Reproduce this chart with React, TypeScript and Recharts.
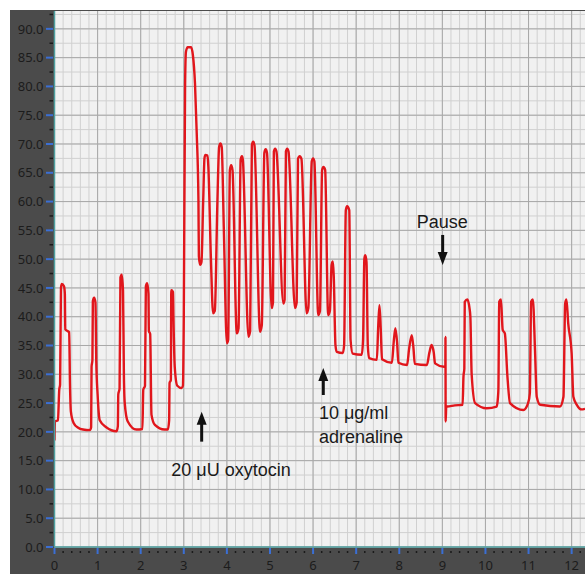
import React from 'react';
import { LineChart, Line, XAxis, YAxis, CartesianGrid, ReferenceDot, ReferenceLine } from 'recharts';

// trace, [time, value]
const baseline: number[][] = [
  [0.0, 18.5], [0.01, 21.8], [0.08, 22.0], [0.11, 27.3], [0.13, 28.2], [0.15, 45.0], [0.17, 45.7],
  [0.22, 45.3], [0.24, 44.0], [0.25, 37.8], [0.34, 37.3], [0.36, 28.0], [0.38, 23.5], [0.44, 21.6],
  [0.55, 20.7], [0.66, 20.4], [0.82, 20.3], [0.85, 20.8], [0.86, 31.3], [0.88, 32.5], [0.89, 42.7],
  [0.92, 43.3], [0.95, 42.5], [0.97, 32.0], [1.0, 26.5], [1.05, 22.0], [1.2, 20.8], [1.44, 20.1],
  [1.47, 21.0], [1.48, 26.5], [1.51, 27.5], [1.53, 46.8], [1.56, 47.3], [1.59, 44.5], [1.61, 30.0],
  [1.63, 25.0], [1.7, 21.8], [1.9, 20.4], [2.04, 20.5], [2.06, 27.3], [2.1, 28.0], [2.12, 45.3],
  [2.15, 45.8], [2.18, 44.0], [2.19, 37.5], [2.22, 37.0], [2.25, 23.0], [2.33, 21.2], [2.55, 20.4],
  [2.63, 20.4], [2.66, 22.0], [2.67, 28.5], [2.7, 29.0], [2.71, 44.6], [2.75, 44.3], [2.76, 40.0],
  [2.79, 31.3], [2.85, 28.0], [2.95, 27.6], [2.98, 28.0],
];

const oxytocin: number[][] = [
  [3.0, 40.0], [3.03, 80.0], [3.05, 86.0], [3.09, 86.8], [3.17, 86.8], [3.21, 85.5], [3.26, 80.5],
  [3.3, 71.9], [3.34, 60.3], [3.35, 50.5], [3.38, 49.0], [3.41, 49.5], [3.45, 60.0], [3.48, 67.5],
  [3.5, 68.1], [3.55, 68.0], [3.57, 66.0], [3.63, 50.0], [3.68, 40.6], [3.72, 41.0], [3.78, 60.0],
  [3.82, 69.5], [3.85, 70.1], [3.88, 69.5], [3.93, 55.0], [4.0, 35.4], [4.03, 36.0], [4.07, 65.5],
  [4.1, 66.3], [4.13, 65.5], [4.23, 37.1], [4.27, 38.0], [4.32, 67.3], [4.35, 67.9], [4.37, 67.3],
  [4.5, 36.5], [4.54, 37.5], [4.58, 69.8], [4.61, 70.4], [4.64, 69.8], [4.77, 37.4], [4.81, 38.5],
  [4.87, 68.5], [4.9, 69.1], [4.93, 68.5], [5.04, 41.5], [5.07, 42.5], [5.09, 68.7], [5.12, 69.2],
  [5.15, 68.7], [5.31, 42.3], [5.34, 43.0], [5.37, 68.7], [5.4, 69.2], [5.43, 68.7], [5.58, 41.5],
  [5.62, 42.5], [5.65, 67.4], [5.69, 67.9], [5.73, 67.4], [5.85, 40.6], [5.89, 41.5], [5.97, 67.0],
  [6.0, 67.5], [6.03, 67.0], [6.12, 40.3], [6.16, 41.0], [6.21, 65.5], [6.24, 66.0], [6.28, 65.5],
  [6.35, 40.3],
];

const adrenaline: number[][] = [
  [6.39, 41.0], [6.43, 49.0], [6.46, 49.6], [6.48, 47.0], [6.52, 35.0], [6.55, 33.9], [6.69, 33.7],
  [6.72, 35.0], [6.76, 58.5], [6.79, 59.2], [6.84, 58.5], [6.87, 36.0], [6.92, 33.6], [7.13, 33.4],
  [7.16, 36.0], [7.19, 50.0], [7.21, 50.7], [7.24, 49.5], [7.27, 35.0], [7.3, 32.8], [7.48, 32.5],
  [7.51, 38.0], [7.54, 42.0], [7.57, 38.0], [7.6, 32.6], [7.83, 32.0], [7.87, 35.5], [7.91, 38.0],
  [7.95, 35.5], [7.98, 32.0], [8.18, 31.6], [8.23, 34.5], [8.29, 36.8], [8.33, 34.5], [8.36, 31.8],
  [8.64, 31.6], [8.7, 33.8], [8.75, 35.1], [8.8, 33.8], [8.83, 31.9], [9.04, 31.3], [9.07, 31.3],
  [9.072, 36.5], [9.077, 21.8], [9.09, 24.4],
];

const afterPause: number[][] = [
  [9.11, 24.4], [9.29, 24.6], [9.47, 24.7], [9.49, 29.6], [9.51, 31.0], [9.52, 42.6], [9.58, 43.0],
  [9.63, 41.5], [9.65, 40.0], [9.68, 30.0], [9.76, 25.0], [10.03, 24.1], [10.26, 24.4], [10.29, 26.0],
  [10.3, 27.3], [10.32, 42.6], [10.36, 43.0], [10.4, 37.7], [10.45, 37.1], [10.51, 29.6], [10.57, 25.0],
  [10.88, 23.8], [10.99, 25.0], [11.03, 26.7], [11.06, 42.6], [11.1, 43.0], [11.15, 34.2], [11.19, 26.1],
  [11.27, 24.7], [11.73, 24.4], [11.81, 26.1], [11.85, 42.3], [11.88, 43.0], [11.92, 38.9], [12.0, 33.6],
  [12.04, 26.1], [12.12, 24.7], [12.23, 23.9], [12.31, 24.0],
];

const xLabels = [0, 1, 2, 3, 4, 5, 6, 7, 8, 9, 10, 11, 12];
const yLabels = [0, 5, 10, 15, 20, 25, 30, 35, 40, 45, 50, 55, 60, 65, 70, 75, 80, 85, 90];

// arrows: tip and tail in data units
const arrows = [
  { x: 3.415, tip: 23.5, tail: 18.3 },
  { x: 6.237, tip: 31.1, tail: 26.4 },
  { x: 9.007, tip: 49.0, tail: 54.2 },
];

const notes = [
  { x: 4.095, y: 13.4, text: '20 \u03bcU oxytocin', anchor: 'middle' },
  { x: 6.137, y: 23.3, text: '10 \u03bcg/ml', anchor: 'start' },
  { x: 6.137, y: 19.1, text: 'adrenaline', anchor: 'start' },
  { x: 9.0, y: 56.5, text: 'Pause', anchor: 'middle' },
];

const X_MAX = 12.31;
const Y_MAX = 93.1;

const data = [...baseline, ...oxytocin, ...adrenaline, ...afterPause].map(([x, y]) => ({ x, y }));

const xTicks = Array.from({ length: 62 }, (_, i) => +(i * 0.2).toFixed(1));
const yTicks = Array.from({ length: 38 }, (_, i) => i * 2.5);

const PANEL = '#4b4b4b';
const TICK_TEXT = '#1c1c1c';
const TICK_BLUE = '#3b6fd4';
const AXIS = '#4fa0a0';
const TRACE = '#e1161c';

const isInt = (v: number) => Math.abs(v - Math.round(v)) < 1e-6;

const YTick = (props: any) => {
  const { x, y, payload } = props;
  const v = payload.value;
  const major = Math.abs(v / 5 - Math.round(v / 5)) < 1e-6;
  if (!major) {
    return <line x1={x - 5} x2={x - 1.5} y1={y} y2={y} stroke="#1a1a1a" strokeWidth={1.5} />;
  }
  return (
    <g>
      <line x1={x - 8.5} x2={x - 1.5} y1={y} y2={y} stroke={TICK_BLUE} strokeWidth={2} />
      <text x={x - 11} y={y} dy="0.36em" textAnchor="end" fill={TICK_TEXT} fontSize={13} fontFamily="Noto Sans">
        {v.toFixed(1)}
      </text>
    </g>
  );
};

const XTick = (props: any) => {
  const { x, y, payload } = props;
  const v = payload.value;
  if (!isInt(v)) {
    return <rect x={x - 0.75} y={y + 4} width={1.5} height={2} fill="#1a1a1a" />;
  }
  return (
    <g>
      <line x1={x} x2={x} y1={y + 1} y2={y + 7} stroke={TICK_BLUE} strokeWidth={2} />
      <text x={x} y={y + 18} dy="0.36em" textAnchor="middle" fill={TICK_TEXT} fontSize={13} fontFamily="Noto Sans">
        {Math.round(v)}
      </text>
    </g>
  );
};

const ArrowHead = ({ cx, cy, down }: any) => {
  const s = down ? -1 : 1;
  return <path d={`M${cx},${cy} L${cx - 5},${cy + s * 13} L${cx + 5},${cy + s * 13} Z`} fill="#111" />;
};

export default function App() {
  return (
    <div style={{ position: 'absolute', left: 0, top: 0, width: 585, height: 574, background: '#fff' }}>
      <div style={{ position: 'absolute', left: 10, top: 10, width: 575, height: 564, background: PANEL }} />
      <div style={{ position: 'absolute', left: 0, top: 0 }}>
        <LineChart width={585} height={574} data={data} margin={{ top: 11, right: 0, bottom: 0, left: 10 }}>
          <CartesianGrid
            fill="#f1f1f1"
            stroke="#d0d0d0"
            strokeWidth={1}
            horizontalValues={yTicks}
            verticalValues={xTicks}
          />
          <CartesianGrid
            stroke="#a8a8a8"
            strokeWidth={1}
            horizontalValues={yLabels}
            verticalValues={xLabels}
          />
          <XAxis
            dataKey="x"
            type="number"
            domain={[0, X_MAX]}
            allowDataOverflow
            ticks={xTicks}
            interval={0}
            height={27}
            tickSize={0}
            tickMargin={0}
            tickLine={false}
            axisLine={{ stroke: AXIS, strokeWidth: 1.5 }}
            tick={(p: any) => <XTick {...p} />}
          />
          <YAxis
            type="number"
            domain={[0, Y_MAX]}
            allowDataOverflow
            ticks={yTicks}
            interval={0}
            width={44.5}
            tickSize={0}
            tickMargin={0}
            tickLine={false}
            axisLine={{ stroke: AXIS, strokeWidth: 1.5 }}
            tick={(p: any) => <YTick {...p} />}
          />
          <Line
            type="monotone"
            dataKey="y"
            stroke={TRACE}
            strokeWidth={2.4}
            strokeLinejoin="round"
            dot={false}
            isAnimationActive={false}
          />
          {arrows.map((a, i) => (
            <ReferenceLine
              key={`stem-${i}`}
              segment={[{ x: a.x, y: a.tail }, { x: a.x, y: a.tip + (a.tail > a.tip ? 2 : -2) }]}
              stroke="#111"
              strokeWidth={3}
              ifOverflow="visible"
            />
          ))}
          {arrows.map((a, i) => (
            <ReferenceDot
              key={`head-${i}`}
              x={a.x}
              y={a.tip}
              r={0}
              ifOverflow="visible"
              shape={(p: any) => <ArrowHead cx={p.cx} cy={p.cy} down={a.tail > a.tip} />}
            />
          ))}
          {notes.map((n, i) => (
            <ReferenceDot
              key={`note-${i}`}
              x={n.x}
              y={n.y}
              r={0}
              ifOverflow="visible"
              shape={(p: any) => (
                <text
                  x={p.cx}
                  y={p.cy}
                  dy="0.35em"
                  textAnchor={n.anchor}
                  fill="#1a1a1a"
                  fontSize={18}
                  fontFamily="Liberation Sans, Arial, sans-serif"
                >
                  {n.text}
                </text>
              )}
            />
          ))}
        </LineChart>
      </div>
    </div>
  );
}
